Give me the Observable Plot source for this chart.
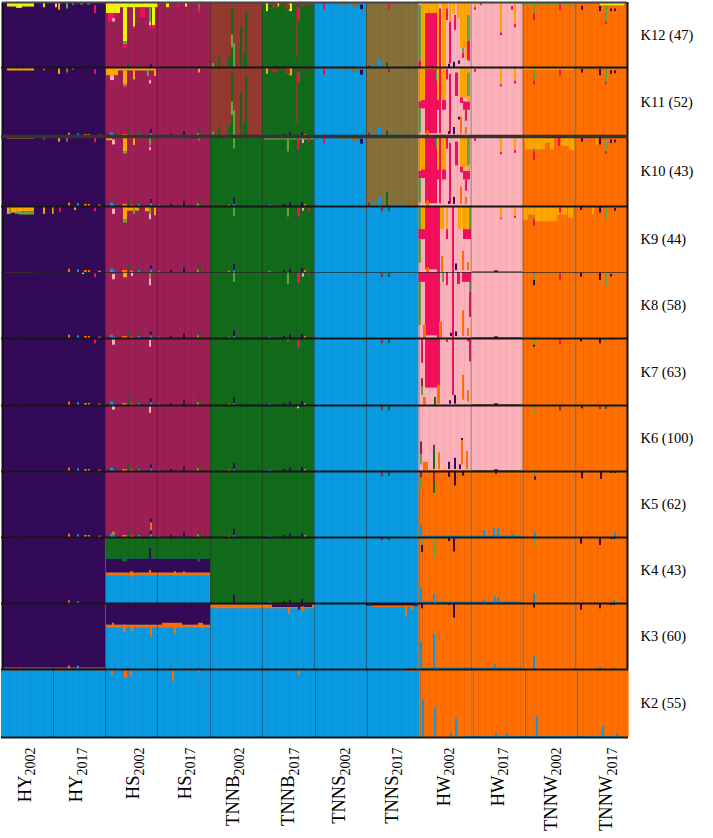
<!DOCTYPE html>
<html><head><meta charset="utf-8">
<script src="https://cdn.jsdelivr.net/npm/d3@7"></script>
<script src="https://cdn.jsdelivr.net/npm/@observablehq/plot@0.6"></script>
<style>html,body{margin:0;padding:0;background:#fff}svg{display:block}</style>
</head><body><div id="chart"></div>
<script>
const populations=["HY2002","HY2017","HS2002","HS2017","TNNB2002","TNNB2017","TNNS2002","TNNS2017","HW2002","HW2017","TNNW2002","TNNW2017"];
const panels=["K12 (47)","K11 (52)","K10 (43)","K9 (44)","K8 (58)","K7 (63)","K6 (100)","K5 (62)","K4 (43)","K3 (60)","K2 (55)"];
const clusters=["purple","magenta","green","blue","brown","olive","hotpink","lightpink","orange","amber","yellow","lightgreen"];
const clusterColors=["#330a58","#9c1f55","#126b1b","#0a9ae2","#95392f","#86703a","#f40f5c","#fdb1bb","#ff6e00","#ffa500","#eef50b","#66a63e"];
const popEdges=[0,51,103,155,208,260,312,364,416.5,468.5,520.5,572.5,625];
const popEdgesK2=[-1,51,103,155,208,260,313,365,417.5,470.5,522.7,574.7,626.7];
const labelNudge=[-3,-3,2,1,-3,0,-1,-1,-1,1,2,5];

const baseK12=["purple","purple","magenta","magenta","brown","green","blue","olive","lightpink","lightpink","orange","orange"];
const baseK11=baseK12;
const baseK10=["purple","purple","magenta","magenta","green","green","blue","olive","lightpink","lightpink","orange","orange"];
const baseK9=["purple","purple","magenta","magenta","green","green","blue","blue","lightpink","lightpink","orange","orange"];
const baseK8=baseK9,baseK7=baseK9,baseK6=baseK9;
const baseK5=["purple","purple","magenta","magenta","green","green","blue","blue","orange","orange","orange","orange"];
const baseK4=["purple","purple","blue","blue","green","green","blue","blue","orange","orange","orange","orange"];
const baseK3=["purple","purple","blue","blue","blue","blue","blue","blue","orange","orange","orange","orange"];
const baseK2=["blue","blue","blue","blue","blue","blue","blue","blue","orange","orange","orange","orange"];

// shared admixture tuples: [individual, count, cluster, q from, q to]
const lowBits=[[66,2,"orange",.95,1],[75,2,"blue",.96,1],[82,3,"orange",.97,1],[86,2,"orange",.97,1],[96,3,"orange",.98,1],[108,3,"blue",.95,1],[111,2,"blue",.98,1],[120,5,"orange",.97,1],[125,2,"green",.9,.97],[128,3,"orange",.98,1],[136,2,"green",.93,.97],[136,2,"blue",.97,1],[148,2,"purple",.9,.96],[148,2,"blue",.96,1],[156,2,"blue",.98,1],[168,2,"purple",.97,1],[181,2,"purple",.93,1],[195,2,"orange",.96,1],[197,2,"green",.91,1],[226,2,"orange",.98,1],[231,2,"purple",.88,.97],[231,2,"blue",.97,1],[266,3,"blue",.98,1],[281,2,"purple",.97,1],[287,2,"purple",.95,1],[299,2,"purple",.94,1],[302,2,"orange",.97,1]];
const blueRim=[[361,2,"olive",.01,.05],[379,2,"magenta",.02,.08],[386,2,"green",.02,.08]];
const hw17Rim=[[470,50,"olive",.985,1],[492,4,"purple",.975,1]];
const brownGreen=[[229,2,"green",.07,.5],[229,2,"lightgreen",.5,.7],[229,2,"green",.7,1],[226,4,"green",.85,1],[231,2,"lightgreen",.63,1],[238,2,"green",.38,1],[243,2,"green",.13,1],[241,2,"green",.8,1],[216,2,"green",.86,1],[210,2,"lightgreen",.94,1]];
const fringeBlue=[[312,52,"olive",0,.02],[321,2,"hotpink",.02,.11],[340,6,"olive",.02,.05],[350,6,"olive",.02,.07],[358,3,"purple",.04,.11]];

const admixK12=[[5,27,"yellow",.01,.07],[5,27,"olive",0,.015],[14,6,"yellow",.05,.09],[41,2,"yellow",0,.08],[56,2,"amber",0,.12],[64,2,"lightgreen",0,.1],[53,2,"lightpink",0,.08],[92,2,"hotpink",.05,.17],[70,2,"olive",0,.05],[78,3,"olive",0,.04],[85,3,"olive",0,.04],
[104,14,"yellow",0,.17],[118,38,"yellow",0,.08],[106,7,"hotpink",.17,.3],[110,3,"lightpink",.25,.3],[121,4,"yellow",.08,.6],[121,4,"lightgreen",.6,.65],[121,4,"hotpink",.65,.7],[131,2,"yellow",.08,.38],[131,2,"hotpink",.38,.42],[150,3,"yellow",.08,.36],[150,3,"hotpink",.36,.4],[138,5,"hotpink",.1,.24],[147,2,"lightgreen",.08,.3],[147,2,"lightpink",.3,.36],[147,2,"hotpink",.36,.42],
[156,50,"olive",0,.02],[164,3,"yellow",0,.08],[175,2,"hotpink",.02,.08],[183,2,"yellow",0,.07],[196,2,"olive",0,.12],[196,2,"hotpink",.12,.17],
[125,2,"green",.93,1],[135,2,"green",.96,1],[148,2,"purple",.96,1],[196,2,"green",.97,1],...brownGreen,
[260,52,"brown",0,.04],[264,2,"yellow",0,.14],[275,2,"yellow",0,.07],[287,3,"yellow",0,.14],[295,3,"hotpink",.08,.28],[294,2,"brown",.06,.85],[270,6,"brown",.04,.09],[283,5,"brown",.04,.11],[299,4,"brown",.04,.07],...fringeBlue,
[364,52,"olive",0,.02],[386,2,"hotpink",.02,.12],[376,3,"blue",.88,1],[370,2,"blue",.95,1],[384,2,"green",.93,1],[366,2,"magenta",.97,1],
[416.5,2.5,"lightgreen",.05,.9],[416.5,2.5,"hotpink",.9,1],[419,4,"amber",.01,1],[423,12,"amber",.01,.17],[423,12,"hotpink",.17,1],[435,2,"amber",.01,1],[437,2,"hotpink",.1,1],[439,2,"amber",.01,.06],[440,4,"amber",.01,1],[444,2,"amber",.01,.1],[444,2,"hotpink",.1,.28],[447,2,"hotpink",.3,.94],[447,2,"amber",.01,.3],[450,3,"amber",.01,.18],[452,2,"hotpink",.2,.43],[455,3,"amber",.01,.25],[458,7,"amber",.01,.7],[460,2,"lightgreen",.7,.78],[460,2,"hotpink",.78,.86],[463,2,"amber",.7,.88],[465,3,"amber",.01,.2],[465,3,"lightgreen",.2,.6],[465,3,"hotpink",.6,.9],[451,2,"purple",.92,1],[446,2,"purple",.95,1],[456,2,"purple",.9,.95],[458,2,"lightpink",.86,.94],
[470,50,"amber",0,.02],[498,2,"amber",0,.47],[498,2,"hotpink",.47,.51],[512,2,"amber",0,.34],[512,2,"hotpink",.34,.39],[472,2,"amber",0,.08],[472,2,"hotpink",.08,.12],[509,2,"hotpink",.06,.12],[478,2,"olive",0,.05],
[520,52,"lightgreen",0,.04],[531,2,"lightgreen",.04,.18],[531,2,"hotpink",.18,.28],[557,2,"hotpink",.04,.12],[572,26,"lightgreen",0,.03],[598,24,"yellow",0,.05],[579,2,"purple",.06,.12],[597,2,"purple",.06,.14],[603,2,"lightgreen",.05,.3],[603,2,"hotpink",.3,.34],[608,2,"purple",.1,.14],[612,2,"purple",.1,.14]];

const admixK11=[[5,27,"amber",.01,.05],[41,2,"olive",0,.05],[56,2,"amber",0,.1],[64,2,"olive",0,.08],[92,2,"hotpink",.03,.1],[70,2,"olive",0,.04],
[104,12,"amber",0,.12],[116,38,"amber",0,.05],[108,4,"lightpink",.12,.19],[121,4,"amber",.05,.25],[121,4,"lightgreen",.25,.28],[121,4,"hotpink",.28,.3],[131,2,"amber",.05,.18],[145,2,"lightgreen",.05,.13],[147,2,"hotpink",.13,.19],[147,2,"lightpink",.19,.24],[152,2,"amber",.05,.13],[156,50,"olive",0,.02],[196,2,"amber",.02,.08],...lowBits,...brownGreen,
[260,52,"brown",0,.03],[264,2,"amber",0,.1],[287,3,"amber",0,.12],[295,3,"hotpink",.08,.22],[294,2,"brown",.06,.8],[270,6,"brown",.03,.08],[283,5,"brown",.03,.1],...fringeBlue,
[364,52,"olive",0,.02],[386,2,"magenta",.02,.08],[376,3,"blue",.87,1],[370,2,"blue",.94,1],[384,2,"green",.92,1],[366,2,"magenta",.95,1],[390,10,"blue",.98,1],
[416.5,2.5,"amber",0,.5],[416.5,2.5,"hotpink",.5,.6],[416.5,2.5,"lightgreen",.6,.95],[419,4,"amber",0,.48],[419,4,"hotpink",.48,.6],[423,12,"amber",0,.03],[423,12,"hotpink",.03,.96],[434,2,"lightgreen",.04,.2],[435,2,"amber",.0,.48],[435,2,"hotpink",.48,.62],[437,2,"hotpink",0,.96],[439,5,"amber",0,.48],[440,4,"hotpink",.48,.62],[444,2,"hotpink",.03,.18],[447,2,"hotpink",.1,.96],[453,3,"hotpink",.08,.42],[458,7,"amber",0,.44],[461,7,"hotpink",.5,.62],[458,3,"hotpink",.44,.52],[465,3,"amber",0,.08],[465,3,"lightgreen",.08,.42],[465,3,"amber",.42,.5],[463,2,"hotpink",.62,.78],[451,2,"purple",.87,.97],[446,2,"purple",.93,.97],[458,2,"orange",.72,.97],[463,2,"orange",.87,.97],[456,2,"purple",.72,.76],[424,3,"orange",.92,1],[438,3,"orange",.98,1],
[470,50,"amber",0,.015],[498,2,"amber",0,.25],[498,2,"hotpink",.25,.28],[512,2,"amber",0,.2],[512,2,"hotpink",.2,.24],[472,2,"hotpink",.03,.07],
[520,52,"amber",0,.04],[531,2,"lightgreen",.04,.2],[531,2,"hotpink",.2,.25],[557,2,"hotpink",.04,.12],[572,50,"olive",0,.02],[579,2,"purple",.03,.08],[597,2,"purple",.03,.12],[603,2,"lightgreen",.04,.22],[603,2,"hotpink",.22,.25],[608,2,"purple",.05,.1],[612,2,"purple",.05,.09]];

const admixK10=[[5,27,"amber",.01,.035],[41,2,"olive",0,.05],[56,2,"amber",0,.08],[64,2,"olive",0,.08],[92,2,"hotpink",.02,.09],
[104,52,"amber",0,.03],[104,6,"amber",.03,.06],[121,4,"amber",.03,.22],[121,4,"lightgreen",.22,.25],[131,2,"amber",.03,.13],[147,2,"lightgreen",.03,.13],[147,2,"hotpink",.13,.22],[147,2,"lightpink",.16,.2],[110,3,"lightpink",.05,.12],[196,2,"olive",.0,.07],...lowBits,
[218,42,"lightgreen",0,.03],[231,2,"lightgreen",0,.18],[262,50,"lightgreen",0,.05],[285,2,"lightgreen",.03,.22],[295,2,"hotpink",.03,.2],[300,2,"lightpink",.05,.1],[306,2,"hotpink",.03,.08],...fringeBlue,
[364,52,"olive",0,.015],[376,3,"blue",.87,1],[370,2,"blue",.94,1],[384,2,"green",.8,1],[366,2,"magenta",.95,1],[392,10,"blue",.98,1],
[416.5,2.5,"amber",0,.5],[416.5,2.5,"hotpink",.5,.6],[416.5,2.5,"lightgreen",.6,.95],[419,4,"amber",0,.48],[419,4,"hotpink",.48,.6],[423,12,"hotpink",0,.96],[434,2,"lightgreen",.01,.16],[435,2,"amber",0,.48],[435,2,"hotpink",.48,.62],[437,2,"hotpink",0,.96],[439,5,"amber",0,.48],[440,4,"hotpink",.48,.62],[444,2,"hotpink",.02,.18],[447,2,"hotpink",.1,.96],[453,3,"hotpink",.08,.42],[458,7,"amber",0,.44],[461,7,"hotpink",.5,.62],[458,3,"hotpink",.44,.52],[465,3,"lightgreen",.02,.42],[465,3,"amber",.42,.5],[463,2,"hotpink",.62,.78],[451,2,"purple",.87,.97],[446,2,"purple",.93,.97],[458,2,"orange",.72,.97],[463,2,"orange",.87,.97],[424,3,"orange",.92,1],
[470,50,"olive",0,.012],[498,2,"amber",0,.23],[498,2,"hotpink",.23,.26],[512,2,"amber",0,.2],[512,2,"hotpink",.2,.24],[472,2,"hotpink",.03,.07],
[520,3,"amber",0,.05],[523,20,"amber",0,.19],[543,5,"amber",0,.1],[548,4,"amber",0,.19],[552,7,"amber",0,.03],[556,2,"hotpink",.03,.14],[559,8,"amber",0,.14],[567,6,"amber",0,.2],[531,2,"lightgreen",.18,.22],[531,2,"hotpink",.22,.34],[579,2,"purple",.03,.08],[594,2,"amber",0,.12],[597,2,"purple",.03,.12],[603,2,"lightgreen",.03,.22],[603,2,"hotpink",.22,.25],[608,2,"purple",.05,.1],[612,2,"purple",.05,.09]];

const admixK9=[[5,2,"amber",.0,.12],[7,2,"lightgreen",.0,.12],[9,4,"amber",0,.1],[13,4,"lightgreen",.09,.12],[13,6,"amber",0,.09],[17,15,"amber",0,.08],[17,15,"lightgreen",.08,.13],[41,2,"amber",0,.12],[50,2,"amber",0,.12],[57,2,"hotpink",0,.09],[72,2,"amber",0,.06],[92,2,"hotpink",.02,.08],
[104,52,"olive",0,.02],[121,4,"amber",0,.2],[121,4,"lightgreen",.2,.25],[125,12,"amber",.02,.07],[143,4,"amber",.02,.08],[147,2,"lightgreen",.02,.12],[147,2,"lightpink",.12,.2],[152,2,"amber",.02,.14],[110,3,"lightpink",.04,.12],[131,2,"lightgreen",.02,.12],...lowBits,
[231,2,"lightgreen",.02,.15],[285,2,"lightgreen",.02,.16],[295,3,"hotpink",.02,.16],[300,2,"lightpink",.03,.07],[306,2,"hotpink",.03,.07],...blueRim,
[416.5,2.5,"amber",0,.03],[416.5,2.5,"lightgreen",.03,.35],[416.5,2.5,"hotpink",.35,.5],[416.5,2.5,"lightgreen",.5,.86],[419,4,"amber",0,.35],[419,4,"hotpink",.35,.5],[423,12,"hotpink",0,.96],[435,3,"hotpink",0,1],[438,4,"amber",0,.35],[444,2,"amber",.0,.35],[444,2,"hotpink",.35,.5],[450,2,"hotpink",0,1],[456,3,"amber",0,.35],[460,7,"amber",0,.35],[461,7,"hotpink",.35,.5],[467,2,"lightgreen",0,.35],[467,2,"hotpink",.35,.5],[460,2,"orange",.68,.97],[465,2,"orange",.85,.97],[439,2,"orange",.76,1],[453,2,"purple",.87,.97],[424,3,"orange",.93,1],...hw17Rim,
[498,2,"amber",.02,.18],[498,2,"hotpink",.18,.2],[512,2,"amber",.02,.15],[512,2,"hotpink",.15,.18],
[521,5,"amber",0,.21],[526,7,"amber",0,.13],[533,22,"amber",0,.23],[555,10,"amber",0,.13],[566,5,"amber",0,.18],[530,2,"lightgreen",.16,.2],[531,2,"hotpink",.2,.3],[557,2,"hotpink",.02,.1],[578,2,"purple",.01,.06],[590,2,"amber",0,.12],[597,2,"purple",.01,.1],[603,2,"lightgreen",.02,.2],[612,2,"purple",.03,.07]];

const admixK8=[[5,27,"olive",0,.01],[92,2,"hotpink",.02,.08],[80,2,"lightpink",0,.03],[110,3,"lightpink",.03,.11],[121,4,"amber",0,.08],[129,2,"lightpink",.01,.06],[147,2,"lightgreen",.02,.1],[147,2,"lightpink",.1,.2],...lowBits,
[231,2,"lightgreen",0,.15],[285,2,"lightgreen",0,.18],[295,3,"hotpink",0,.16],[300,2,"lightpink",.02,.07],[306,2,"hotpink",.02,.06],...blueRim,
[416.5,2.5,"hotpink",0,.15],[416.5,2.5,"lightgreen",.15,.8],[419,4,"hotpink",0,.15],[423,12,"hotpink",0,.96],[435,3,"hotpink",0,1],[440,2,"lightgreen",0,.15],[444,2,"hotpink",0,.2],[450,2,"hotpink",0,1],[455,3,"hotpink",0,.18],[460,9,"hotpink",0,.15],[467,2,"lightgreen",.15,.3],[467,2,"hotpink",.3,.68],[460,2,"orange",.58,.97],[465,2,"orange",.85,.97],[421,3,"orange",.8,1],[437,3,"orange",.75,1],[453,2,"purple",.9,.97],[448,2,"purple",.92,.97],...hw17Rim,
[531,2,"lightgreen",.02,.12],[531,2,"purple",.12,.2],[557,2,"hotpink",.02,.12],[578,2,"purple",.01,.07],[597,2,"purple",.01,.12],[603,2,"lightgreen",.02,.22],[608,2,"purple",.03,.07]];

const admixK7=[[92,2,"hotpink",.02,.08],[110,3,"lightpink",.02,.1],[147,2,"lightpink",.03,.13],...lowBits,[295,3,"hotpink",.02,.14],[285,2,"olive",.01,.05],...blueRim,
[419,2,"hotpink",0,.37],[419,2,"magenta",.6,.8],[419,2,"lightgreen",.72,.85],[423,12,"hotpink",0,.74],[435,3,"hotpink",0,.7],[435,3,"orange",.7,.98],[450,2,"hotpink",0,.85],[444,2,"hotpink",0,.06],[465,3,"hotpink",0,.05],[467,2,"hotpink",0,.35],[460,2,"orange",.55,.92],[465,2,"orange",.78,.95],[421,3,"orange",.88,1],[432,2,"green",.88,1],[452,2,"purple",.85,.98],[447,2,"purple",.93,.98],...hw17Rim,
[531,2,"lightgreen",.02,.1],[531,2,"purple",.1,.13],[557,2,"hotpink",.02,.09],[578,2,"purple",.01,.05],[597,2,"purple",.01,.08],[603,2,"lightgreen",.01,.06],[610,2,"blue",0,.03]];

const admixK6=[[110,3,"lightpink",.01,.07],[147,2,"lightpink",.02,.12],...lowBits,[295,2,"lightpink",.01,.05],...blueRim,
[418,2,"magenta",.55,.75],[418,2,"lightgreen",.75,.9],[421,5,"orange",.86,1],[431,2,"magenta",.6,.68],[431,2,"green",.68,.97],[436,2,"orange",.72,.97],[446,2,"purple",.86,.97],[452,2,"purple",.8,.97],[459,2,"orange",.52,.9],[459,2,"purple",.5,.53],[464,2,"orange",.7,.97],[457,2,"purple",.9,.97],[426,42,"orange",.985,1],...hw17Rim,
[532,2,"lightgreen",.02,.12],[557,2,"magenta",.02,.08],[579,2,"purple",.02,.05],[597,2,"magenta",.02,.06],[603,2,"green",.02,.06],[612,2,"blue",0,.03]];

const admixK5=[[148,2,"purple",.72,.78],[148,2,"orange",.78,.97],[110,3,"orange",.92,.97],...lowBits,...blueRim,
[418,2,"magenta",.01,.1],[418,2,"lightgreen",.1,.27],[431,2,"magenta",.01,.17],[431,2,"green",.17,.33],[446,2,"purple",.01,.09],[452,2,"purple",.01,.22],[460,2,"purple",.01,.07],[493,2,"purple",.01,.04],[532,2,"lightgreen",.01,.08],[532,2,"purple",.08,.13],[579,2,"purple",.01,.11],[598,2,"purple",.01,.12],[608,2,"purple",.01,.03],[612,2,"purple",.01,.03],
[418,2,"blue",.82,1],[420,100,"blue",.975,1],[481,2,"blue",.9,1],[491,2,"blue",.86,1],[495,2,"blue",.87,1],[510,2,"blue",.95,1],[532,2,"blue",.92,1],[612,2,"blue",.93,1]];

const admixK4=[[104,104,"green",0,.33],[104,104,"purple",.33,.54],[104,104,"orange",.54,.58],[120,5,"green",.33,.37],[128,3,"orange",.52,.6],[147,2,"purple",.17,.33],[147,2,"orange",.5,.58],[172,2,"orange",.52,.58],[195,3,"green",.33,.37],[181,2,"orange",.52,.58],
[66,2,"orange",.96,1],[75,2,"blue",.97,1],[231,2,"purple",.88,1],[266,3,"blue",.98,1],[287,2,"purple",.95,1],[299,2,"purple",.94,1],[281,2,"purple",.97,1],
[361,2,"olive",0,.03],[379,2,"magenta",0,.05],[386,2,"green",0,.05],[411,2,"blue",0,.02],
[419,2,"lightgreen",.01,.12],[419,2,"purple",.12,.23],[431,2,"lightgreen",.01,.3],[446,2,"purple",.01,.06],[451,2,"purple",.01,.22],[531,2,"lightgreen",.01,.12],[578,2,"purple",.01,.1],[597,2,"purple",.01,.12],[608,2,"purple",.01,.03],[611,2,"purple",.01,.03],
[418,2,"blue",.76,1],[431,2,"blue",.86,1],[420,100,"blue",.975,1],[481,2,"blue",.95,1],[492,2,"blue",.9,1],[495,2,"blue",.92,1],[531,2,"blue",.86,1],[611,2,"blue",.95,1]];

const admixK3=[[104,104,"purple",0,.33],[104,104,"orange",.33,.37],[121,3,"orange",.33,.44],[129,2,"orange",.36,.43],[148,2,"orange",.36,.51],[172,2,"orange",.36,.46],[196,5,"orange",.3,.37],[110,2,"orange",.3,.34],[160,20,"orange",.3,.37],
[0,104,"brown",.97,1],[66,2,"orange",.95,1],[75,2,"blue",.95,1],
[208,104,"purple",0,.02],[208,104,"orange",.02,.08],[270,40,"purple",.02,.06],[286,2,"orange",.06,.17],[296,2,"purple",.03,.1],[300,2,"orange",.05,.13],[312,52,"purple",0,.015],[364,52,"purple",0,.04],[403,2,"orange",.04,.2],[409,2,"orange",.04,.1],[370,40,"orange",.04,.06],
[419,2,"purple",.01,.08],[446,2,"purple",.01,.03],[451,2,"purple",.01,.22],[531,2,"purple",.01,.07],[578,2,"purple",.01,.1],[597,2,"purple",.01,.08],[608,2,"purple",.01,.03],[611,2,"purple",.01,.03],
[418,2,"blue",.59,1],[431,2,"blue",.47,1],[420,100,"blue",.975,1],[492,2,"blue",.93,1],[531,2,"blue",.8,1],[597,2,"blue",.96,1],[611,2,"blue",.97,1]];

const admixK2=[[0,104,"orange",0,.012],[10,2,"orange",0,.03],[16,2,"orange",0,.03],[55,4,"orange",0,.03],[98,2,"orange",0,.04],[109,2,"orange",0,.08],[122,3,"orange",0,.13],[128,2,"orange",0,.11],[148,2,"orange",0,.03],[170,2,"orange",0,.18],[196,2,"orange",0,.05],[185,3,"orange",0,.03],[296,2,"orange",0,.08],[260,3,"orange",0,.02],[403,13,"orange",0,.03],
[420,2,"blue",.45,1],[432,2,"blue",.57,1],[453,2,"blue",.72,1],[448,2,"blue",.95,1],[493,2,"blue",.95,1],[504,2,"blue",.95,1],[534,2,"blue",.69,1],[600,2,"blue",.84,1],[614,2,"blue",.95,1],[460,160,"blue",.985,1]];

const basesByPanel=[baseK12,baseK11,baseK10,baseK9,baseK8,baseK7,baseK6,baseK5,baseK4,baseK3,baseK2];
const admixByPanel=[admixK12,admixK11,admixK10,admixK9,admixK8,admixK7,admixK6,admixK5,admixK4,admixK3,admixK2];
const row=(i,x1,x2,cluster,q0,q1)=>({x1,x2,cluster,y1:i+q0,y2:i+q1});
const baseRows=basesByPanel.flatMap((base,i)=>base.map((c,p)=>{const e=i===10?popEdgesK2:popEdges;return row(i,e[p],e[p+1],c,0,1);}));
const admixRows=admixByPanel.flatMap((list,i)=>list.map(([x,n,c,q0,q1])=>row(i,x,x+n,c,q0,q1)));
const boundaryRows=panels.flatMap((_,i)=>(i===10?popEdgesK2:popEdges).slice(1,-1).map(x=>({x,y1:i,y2:i+1})));
const stripes=panels.flatMap((_,i)=>d3.range(7,625,7).map(x=>({x,y1:i,y2:i+1})));
const panelLabels=panels.map((label,i)=>({label,y:i+.5}));
const popLabels=populations.map((label,p)=>({label,x:(popEdges[p]+popEdges[p+1])/2+labelNudge[p]}));
const fillByCluster={value:"cluster",scale:"color"};

const chart=Plot.plot({
  width:713,height:838,margin:0,
  style:{fontFamily:"'Liberation Serif',serif",background:"#fff",color:"#000"},
  x:{axis:null,type:"linear",domain:[0,625],range:[2,627]},
  y:{axis:null,type:"linear",domain:d3.range(0,12),range:[2,67,136,206,272,338,405,471,537,603,669,737]},
  color:{type:"ordinal",domain:clusters,range:clusterColors},
  marks:[
    Plot.rect(baseRows,{x1:"x1",x2:"x2",y1:"y1",y2:"y2",fill:fillByCluster}),
    Plot.rect(admixRows,{x1:"x1",x2:"x2",y1:"y1",y2:"y2",fill:fillByCluster,className:"admix"}),
    Plot.ruleX(stripes,{x:"x",y1:"y1",y2:"y2",stroke:"#000",strokeOpacity:.05}),
    Plot.ruleX(boundaryRows,{x:"x",y1:"y1",y2:"y2",stroke:"#222",strokeOpacity:.42}),
    Plot.ruleX([0],{x:d=>d,y1:0,y2:10,stroke:"#111",strokeWidth:2}),
    Plot.ruleX([625],{x:d=>d,y1:0,y2:10,stroke:"#111",strokeWidth:2}),
    Plot.ruleY([0],{y:d=>d,x1:0,x2:625,stroke:"#444",strokeWidth:2}),
    Plot.ruleY([1,3,5,6,7,8,9,10,11],{y:d=>d,x1:-1,x2:626,stroke:"#161616",strokeWidth:1.8}),
    Plot.ruleY([4],{y:d=>d,x1:-1,x2:626,stroke:"#222",strokeWidth:1.2,strokeOpacity:.7}),
    Plot.ruleY([2],{y:d=>d,x1:-1,x2:626,stroke:"#333",strokeWidth:3.5}),
    Plot.text(panelLabels,{x:625,y:"y",text:"label",dx:13,textAnchor:"start",fontSize:14.5,fill:"#000"}),
    Plot.text(popLabels,{x:"x",y:11,text:"label",rotate:-90,textAnchor:"end",dy:10,fontSize:18.5,fill:"#000",className:"poplabel"})
  ]
});
d3.select(chart).selectAll(".poplabel text").each(function(){
  const t=this.textContent,m=t.match(/^(.*?)(\d{4})$/);
  const s=d3.select(this);s.text(null);
  s.append("tspan").text(m[1]);
  s.append("tspan").attr("dy","0.32em").attr("font-size",14).text(m[2]);
});
d3.select(chart).selectAll(".admix").style("filter","blur(0.35px)");
document.getElementById("chart").append(chart);
</script></body></html>
